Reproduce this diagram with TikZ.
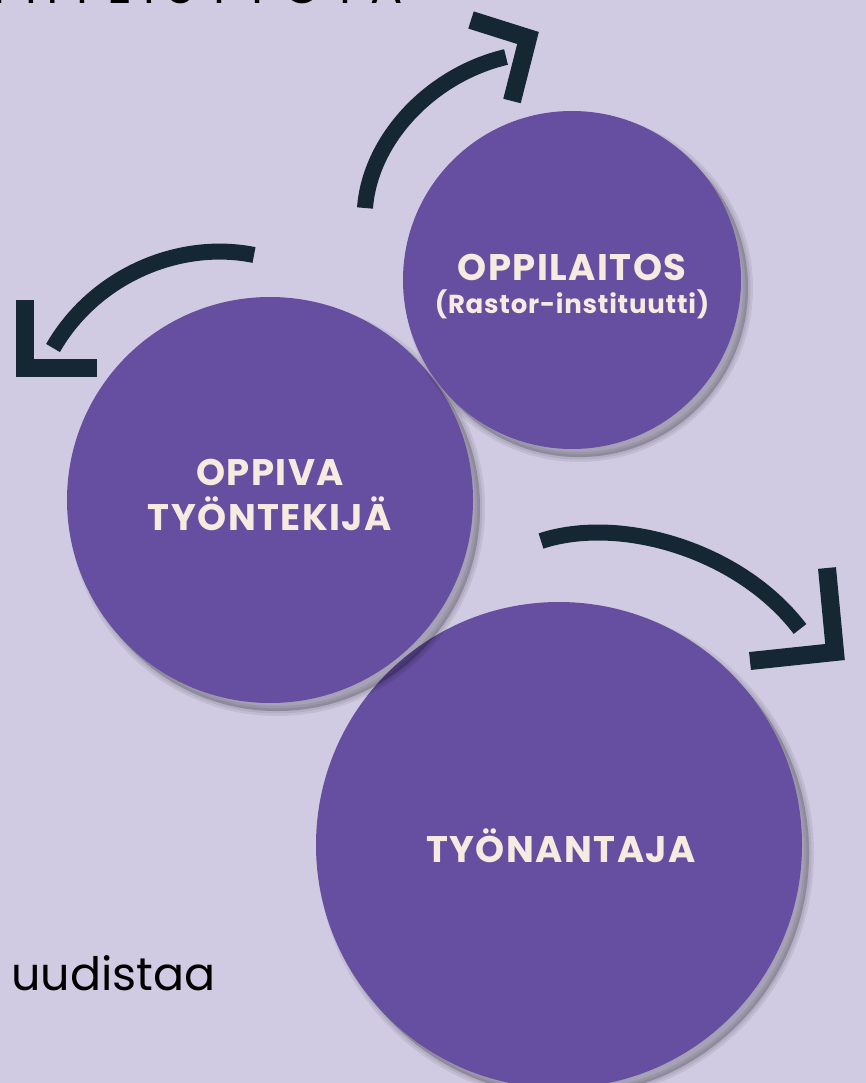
\documentclass[tikz,border=0pt]{standalone}
\usepackage{fontspec}
\setmainfont{Poppins}
\definecolor{tausta}{HTML}{D0CBE2}
\definecolor{pallo}{HTML}{664EA0}
\definecolor{muste}{HTML}{142733}
\definecolor{kerma}{HTML}{F7EBE1}
\tikzset{
  varjo/.style={fill=black, draw=black, opacity=0.07, line width=#1,
    transform canvas={shift={(7pt,-8pt)}}},
  pallo/.style={circle, fill=pallo, inner sep=0pt,
    preaction={varjo=10pt}, preaction={varjo=5pt}, preaction={varjo=0.1pt}},
  teksti/.style={text=kerma, align=center, inner sep=0pt,
    font=\bfseries\fontsize{37}{45}\selectfont\addfontfeatures{LetterSpace=4}},
  kaari/.style={draw=muste, line width=16pt},
  karki/.style={draw=muste, line width=18pt, line join=miter},
}
\begin{document}
\begin{tikzpicture}[x=1pt,y=-1pt]
\useasboundingbox (0,0) rectangle (866,1083);
\clip (0,0) rectangle (866,1083);
\fill[tausta] (0,0) rectangle (866,1083);
\node[anchor=base west, font=\fontsize{48}{48}\selectfont\addfontfeatures{LetterSpace=24}] (otsikko) at (-18,4) {YHTEISTYÖTÄ};
\node[anchor=base west, font=\fontsize{46}{46}\selectfont] (uudistaa) at (8,990) {uudistaa};
\node[pallo, minimum size=486pt] (tyonantaja) at (559,845) {};
\node[pallo, minimum size=406pt] (oppiva) at (270,500) {};
\node[pallo, minimum size=338pt] (oppilaitos) at (572,280) {};
\node[teksti] (tyonantaja-teksti) at (561,846) {TYÖNANTAJA};
\node[teksti] (oppiva-teksti) at (270,495) {OPPIVA\\TYÖNTEKIJÄ};
\node[teksti] (oppilaitos-teksti) at (572,287) {OPPILAITOS\\[-12pt]{\fontsize{26}{30}\selectfont\addfontfeatures{LetterSpace=3}(Rastor-instituutti)}};
\draw[kaari] (365,208) .. controls (370,140) and (430,75) .. (506,57);
\draw[karki] (471,20) -- (528,38) -- (512,101);
\draw[kaari] (254,255) .. controls (180,240) and (95,275) .. (53,348);
\draw[karki] (25,300) -- (25,368) -- (97,368);
\draw[kaari] (541,541) .. controls (620,515) and (740,550) .. (800,629);
\draw[karki] (827,568) -- (835,652) -- (750,661);
\end{tikzpicture}
\end{document}
